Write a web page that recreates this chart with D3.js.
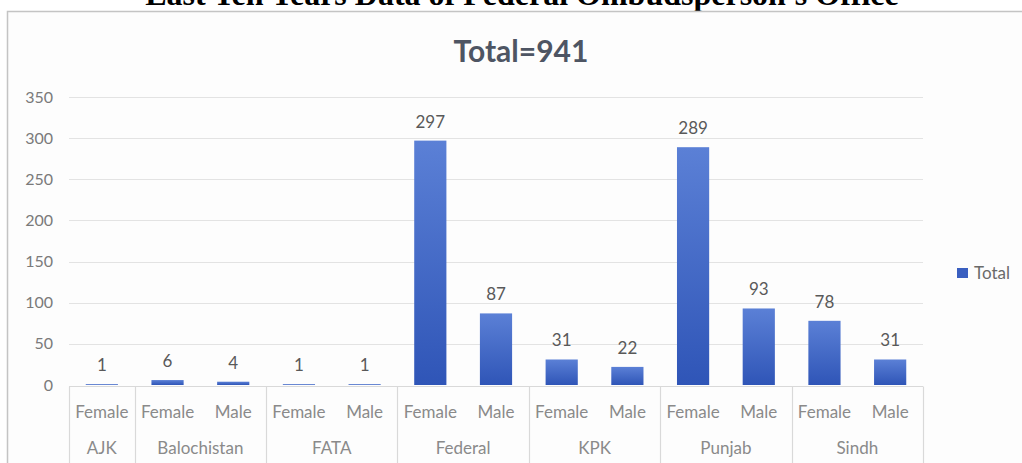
<!DOCTYPE html>
<html>
<head>
<meta charset="utf-8">
<script src="https://cdn.jsdelivr.net/npm/d3@7"></script>
<style>
  body { margin: 0; background: #fff; }
  svg { display: block; }
</style>
</head>
<body>
<svg id="chart" width="1022" height="463"></svg>
<script>
// data
const regions = ["AJK", "Balochistan", "Balochistan", "FATA", "FATA", "Federal", "Federal",
                 "KPK", "KPK", "Punjab", "Punjab", "Sindh", "Sindh"];
const genders = ["Female", "Female", "Male", "Female", "Male", "Female", "Male",
                 "Female", "Male", "Female", "Male", "Female", "Male"];
const totals = [1, 6, 4, 1, 1, 297, 87, 31, 22, 289, 93, 78, 31];
const yTicks = [0, 50, 100, 150, 200, 250, 300, 350];
const seriesName = "Total";
const chartTitle = "Total=941";
const pageTitle = "Last Ten Years Data of Federal Ombudsperson's Office";

const svg = d3.select("#chart");
const font = "Lato, 'Open Sans', sans-serif";

// page heading (cut off at the top like the screenshot)
svg.append("text")
  .attr("x", 522).attr("y", 5)
  .attr("text-anchor", "middle")
  .attr("font-family", "'Liberation Serif', 'Times New Roman', serif")
  .attr("font-weight", "bold")
  .attr("font-size", 32)
  .attr("fill", "#000")
  .text(pageTitle);

// chart frame
svg.append("rect")
  .attr("x", 7.5).attr("y", 11.5)
  .attr("width", 1030).attr("height", 470)
  .attr("fill", "#fdfdfd")
  .attr("stroke", "#c4c4c4")
  .attr("stroke-width", 1.5);

const left = 69, right = 923;
const x = d3.scaleBand()
  .domain(d3.range(totals.length))
  .range([left, right])
  .paddingInner(0.51)
  .paddingOuter(0.255);
const y = d3.scaleLinear().domain([0, 350]).range([385, 97]);

// gridlines
svg.append("g").selectAll("line").data(yTicks.filter(d => d > 0)).enter().append("line")
  .attr("x1", left).attr("x2", right)
  .attr("y1", d => Math.round(y(d)) + 0.5)
  .attr("y2", d => Math.round(y(d)) + 0.5)
  .attr("stroke", "#e3e3e3")
  .attr("stroke-width", 1.2);

// y tick labels
svg.append("g").selectAll("text").data(yTicks).enter().append("text")
  .attr("x", 53)
  .attr("y", d => y(d))
  .attr("dy", "0.35em")
  .attr("text-anchor", "end")
  .attr("font-family", font)
  .attr("font-size", 16)
  .attr("fill", "#7a7a7a")
  .text(d => d);

// bar gradient
const grad = svg.append("defs").append("linearGradient")
  .attr("id", "barGrad")
  .attr("x1", 0).attr("y1", 0).attr("x2", 0).attr("y2", 1);
grad.append("stop").attr("offset", "0%").attr("stop-color", "#5b80d6");
grad.append("stop").attr("offset", "100%").attr("stop-color", "#2f55b7");

// bars
svg.append("g").selectAll("rect").data(totals).enter().append("rect")
  .attr("x", (d, i) => x(i))
  .attr("y", d => y(d))
  .attr("width", x.bandwidth())
  .attr("height", d => y(0) - y(d))
  .attr("fill", "url(#barGrad)");

// data labels
svg.append("g").selectAll("text").data(totals).enter().append("text")
  .attr("x", (d, i) => x(i) + x.bandwidth() / 2)
  .attr("y", d => y(d) - 13)
  .attr("text-anchor", "middle")
  .attr("font-family", font)
  .attr("font-size", 17)
  .attr("fill", "#595959")
  .text(d => d);

// category axis line
svg.append("line")
  .attr("x1", left).attr("x2", right)
  .attr("y1", y(0) + 1.5).attr("y2", y(0) + 1.5)
  .attr("stroke", "#d9d9d9")
  .attr("stroke-width", 1.2);

// inner labels (gender)
svg.append("g").selectAll("text").data(genders).enter().append("text")
  .attr("x", (d, i) => x(i) + x.bandwidth() / 2)
  .attr("y", 412)
  .attr("dy", "0.35em")
  .attr("text-anchor", "middle")
  .attr("font-family", font)
  .attr("font-size", 17)
  .attr("fill", "#8a8a8a")
  .text(d => d);

// outer groups (region)
const groups = [];
regions.forEach((r, i) => {
  const last = groups[groups.length - 1];
  if (last && last.name === r) last.end = i;
  else groups.push({ name: r, start: i, end: i });
});
const step = x.step();
const gx0 = g => left + g.start * step;
const gx1 = g => left + (g.end + 1) * step;

svg.append("g").selectAll("line").data([{ start: 0, end: -1 }].concat(groups)).enter().append("line")
  .attr("x1", g => Math.round(gx1(g)) + 0.5)
  .attr("x2", g => Math.round(gx1(g)) + 0.5)
  .attr("y1", y(0) + 1.5)
  .attr("y2", 463)
  .attr("stroke", "#d9d9d9")
  .attr("stroke-width", 1.2);

svg.append("g").selectAll("text").data(groups).enter().append("text")
  .attr("x", g => (gx0(g) + gx1(g)) / 2)
  .attr("y", 448)
  .attr("dy", "0.35em")
  .attr("text-anchor", "middle")
  .attr("font-family", font)
  .attr("font-size", 17)
  .attr("fill", "#8a8a8a")
  .text(g => g.name);

// chart title
svg.append("text")
  .attr("x", 521).attr("y", 62)
  .attr("text-anchor", "middle")
  .attr("font-family", font)
  .attr("font-weight", "bold")
  .attr("font-size", 30)
  .attr("fill", "#4e5563")
  .text(chartTitle);

// legend
const legend = svg.append("g").attr("transform", "translate(957,268)");
legend.append("rect").attr("width", 11).attr("height", 10).attr("fill", "#3a5fc0");
legend.append("text")
  .attr("x", 17).attr("y", 5)
  .attr("dy", "0.35em")
  .attr("font-family", font)
  .attr("font-size", 17)
  .attr("fill", "#6a6a6a")
  .text(seriesName);
</script>
</body>
</html>
